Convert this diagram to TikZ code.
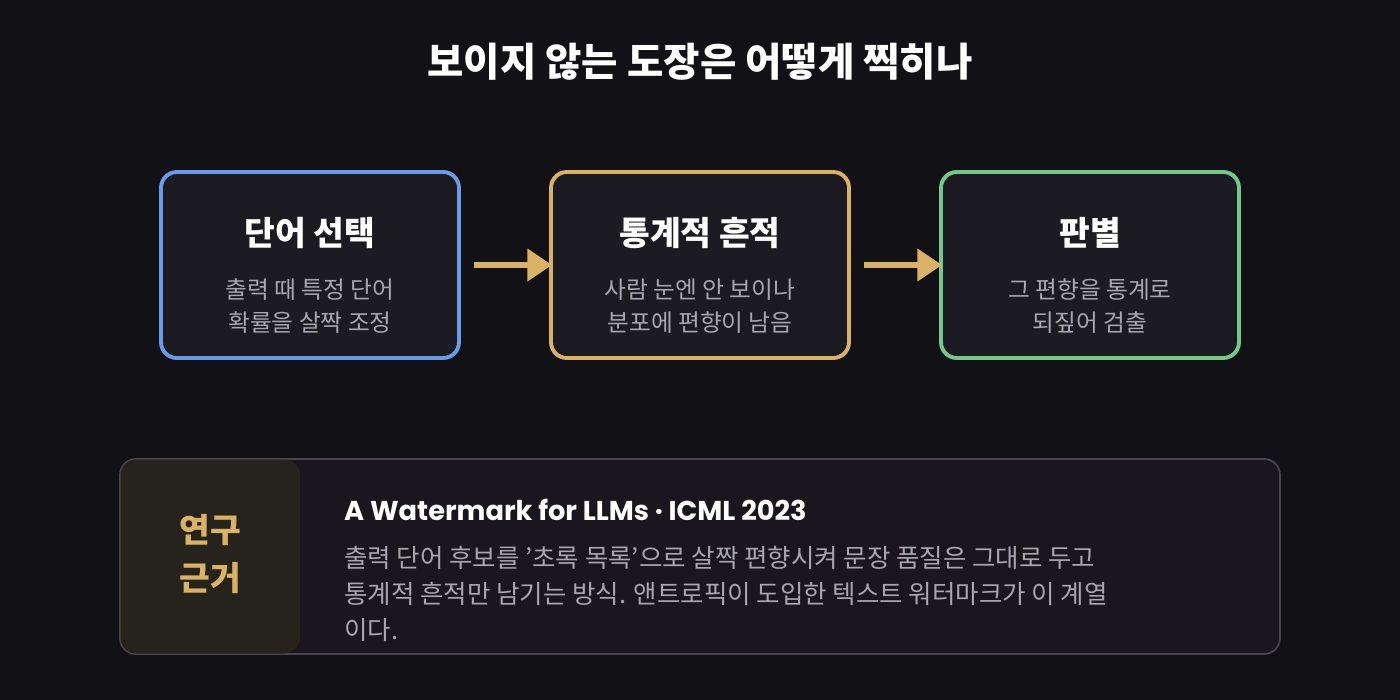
\documentclass[tikz,border=0pt]{standalone}
\usepackage{fontspec}
\setmainfont{Noto Sans CJK KR}
\newfontfamily\enfont{Poppins}
\usetikzlibrary{arrows.meta}
\definecolor{bg}{HTML}{111116}
\definecolor{boxfill}{HTML}{1C1B22}
\definecolor{cblue}{HTML}{6A9BE8}
\definecolor{cgold}{HTML}{D9B266}
\definecolor{cgreen}{HTML}{74C98A}
\definecolor{sub}{HTML}{A8A6AE}
\definecolor{labfill}{HTML}{26221C}
\definecolor{bfill}{HTML}{19171D}
\definecolor{bline}{HTML}{48464C}
\begin{document}
\begin{tikzpicture}[x=0.02cm,y=-0.02cm,
 step/.style={draw=#1,line width=2.2pt,fill=boxfill,rounded corners=9pt},
 ttl/.style={text=white,font=\bfseries\fontsize{19}{22}\selectfont},
 subt/.style={text=sub,font=\fontsize{13.5}{18.5}\selectfont,align=center},
 arr/.style={draw=cgold,line width=3pt,-{Triangle[length=14pt,width=18pt]}}]
\useasboundingbox[fill=bg](0,0) rectangle (1400,700);
\node[text=white,font=\bfseries\fontsize{22.5}{26}\selectfont] (title) at (700,62) {보이지 않는 도장은 어떻게 찍히나};
\foreach \n/\x/\c/\t/\s in {a/310/cblue/단어 선택/출력 때 특정 단어\\확률을 살짝 조정, b/700/cgold/통계적 흔적/사람 눈엔 안 보이나\\분포에 편향이 남음, c/1090/cgreen/판별/그 편향을 통계로\\되짚어 검출}{
 \draw[step=\c] (\x-149,172) rectangle (\x+149,358);
 \node[ttl] (t\n) at (\x,233) {\t};
 \node[subt] (s\n) at (\x,306) {\s};
}
\coordinate (a1) at (474,265); \coordinate (a2) at (552,265);
\coordinate (b1) at (864,265); \coordinate (b2) at (942,265);
\draw[arr] (a1) -- (a2);
\draw[arr] (b1) -- (b2);
\draw[draw=bline,line width=1pt,fill=bfill,rounded corners=9pt] (120,459) rectangle (1280,654);
\fill[labfill,rounded corners=9pt] (120.5,459.5) rectangle (300,653.5);
\node[text=cgold,font=\bfseries\fontsize{19}{27}\selectfont,align=center] (lab) at (210,554) {연구\\근거};
\node[anchor=west,text=white,font=\enfont\bfseries\fontsize{15.5}{18}\selectfont] (en) at (338,510) {A Watermark for LLMs · ICML 2023};
\node[anchor=north west,text=sub,font=\fontsize{14.5}{20.4}\selectfont,align=left] (body) at (338,540) {출력 단어 후보를 '초록 목록'으로 살짝 편향시켜 문장 품질은 그대로 두고\\통계적 흔적만 남기는 방식. 앤트로픽이 도입한 텍스트 워터마크가 이 계열\\이다.};
\end{tikzpicture}
\end{document}
